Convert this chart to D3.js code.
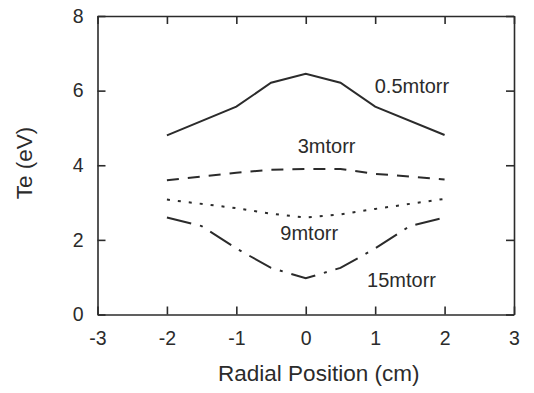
<!DOCTYPE html>
<html>
<head>
<meta charset="utf-8">
<script src="https://cdn.jsdelivr.net/npm/d3@7"></script>
<style>
  html, body { margin: 0; padding: 0; background: #fff; }
  svg { display: block; }
  text { font-family: "Liberation Sans", Arial, Helvetica, sans-serif; fill: #2b2b2b; }
</style>
</head>
<body>
<svg id="chart" width="534" height="393"></svg>
<script>
// ---- data ----
const xTicks = [-3, -2, -1, 0, 1, 2, 3];
const yTicks = [0, 2, 4, 6, 8];
const seriesNames = ["0.5mtorr", "3mtorr", "9mtorr", "15mtorr"];
const xPos05 = [-2, -1, -0.5, 0, 0.5, 1, 2];
const te05 = [4.8, 5.57, 6.21, 6.45, 6.21, 5.57, 4.81];
const xPos3 = [-2, -1, -0.5, 0, 0.5, 1, 2];
const te3 = [3.6, 3.8, 3.88, 3.9, 3.9, 3.77, 3.62];
const xPos9 = [-2, -1, -0.5, 0, 0.5, 1, 2];
const te9 = [3.08, 2.85, 2.7, 2.6, 2.68, 2.83, 3.1];
const xPos15 = [-2, -1.5, -1, -0.5, 0, 0.5, 1, 1.5, 2];
const te15 = [2.6, 2.37, 1.77, 1.25, 0.97, 1.25, 1.77, 2.37, 2.6];

// ---- layout ----
const plot = { left: 97.5, right: 514, top: 16, bottom: 314.5 };
const svg = d3.select("#chart");

const x = d3.scaleLinear().domain([-3, 3]).range([plot.left, plot.right]);
const y = d3.scaleLinear().domain([0, 8]).range([plot.bottom, plot.top]);

const ink = "#2b2b2b";
const fmt = d => String(d); // plain hyphen minus, as in the reference

function styleAxis(g) {
  g.selectAll("path.domain").attr("stroke", ink).attr("stroke-width", 1.6);
  g.selectAll(".tick line").attr("stroke", ink).attr("stroke-width", 1.6);
  g.selectAll(".tick text").attr("fill", ink)
    .style("font-family", '"Liberation Sans", Arial, Helvetica, sans-serif')
    .style("font-size", "19.5px");
}

// bottom
svg.append("g").attr("transform", `translate(0,${plot.bottom})`)
  .call(d3.axisBottom(x).tickValues(xTicks).tickFormat(fmt)
    .tickSize(-8).tickSizeOuter(0).tickPadding(17))
  .call(styleAxis);
// top
svg.append("g").attr("transform", `translate(0,${plot.top})`)
  .call(d3.axisTop(x).tickValues(xTicks).tickFormat("")
    .tickSize(-8).tickSizeOuter(0))
  .call(styleAxis);
// left
svg.append("g").attr("transform", `translate(${plot.left},0)`)
  .call(d3.axisLeft(y).tickValues(yTicks).tickFormat(fmt)
    .tickSize(-8).tickSizeOuter(0).tickPadding(14))
  .call(styleAxis);
// right
svg.append("g").attr("transform", `translate(${plot.right},0)`)
  .call(d3.axisRight(y).tickValues(yTicks).tickFormat("")
    .tickSize(-8).tickSizeOuter(0))
  .call(styleAxis);

// lines
const line = d3.line().x(d => x(d[0])).y(d => y(d[1]));
const series = [
  { xs: xPos05, ys: te05, dash: null },
  { xs: xPos3, ys: te3, dash: "12,9" },
  { xs: xPos9, ys: te9, dash: "3,8" },
  { xs: xPos15, ys: te15, dash: "25,9,3,9" }
];
series.forEach(s => {
  svg.append("path")
    .datum(s.xs.map((v, i) => [v, s.ys[i]]))
    .attr("d", line)
    .attr("fill", "none")
    .attr("stroke", ink)
    .attr("stroke-width", 2)
    .attr("stroke-dasharray", s.dash);
});

// series labels (placed in data coordinates)
const labelAt = [[1.53, 5.94], [0.3, 4.33], [0.05, 2.0], [1.38, 0.74]];
seriesNames.forEach((name, i) => {
  svg.append("text")
    .attr("x", x(labelAt[i][0]))
    .attr("y", y(labelAt[i][1]))
    .attr("text-anchor", "middle")
    .style("font-size", "20px")
    .text(name);
});

// axis titles
svg.append("text")
  .attr("x", (plot.left + plot.right) / 2 + 13)
  .attr("y", 381)
  .attr("text-anchor", "middle")
  .style("font-size", "22.5px")
  .text("Radial Position (cm)");

svg.append("text")
  .attr("transform", `translate(32,163) rotate(-90)`)
  .attr("text-anchor", "middle")
  .style("font-size", "22.5px")
  .text("Te (eV)");
</script>
</body>
</html>
